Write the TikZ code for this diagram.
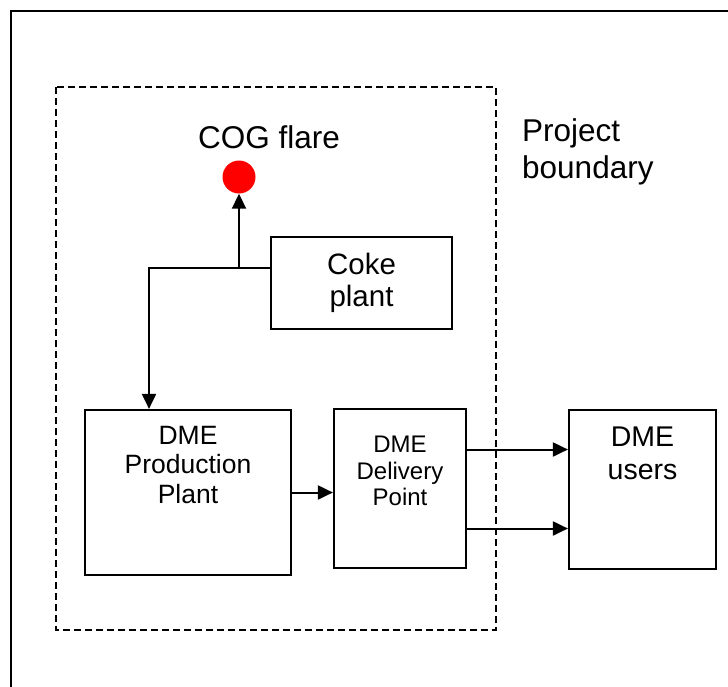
\documentclass[tikz,border=0pt]{standalone}
\usepackage{fontspec}
\setmainfont{Liberation Sans}
\usetikzlibrary{arrows.meta}

\tikzset{
    unit/.style={draw, line width=2.2pt, inner sep=0pt},
    flow/.style={line width=2pt, -{Triangle[length=15pt,width=14pt]}},
    boxtext/.style={anchor=north, inner sep=0pt, align=center}
}

\begin{document}
\begin{tikzpicture}[x=1pt, y=-1pt]
    \useasboundingbox (0,0) rectangle (728,686);
    \clip (0,0) rectangle (728,686);
    \draw[line width=2.4pt] (11,11) rectangle (760,720);

    % project boundary
    \draw[line width=2pt, dash pattern=on 7pt off 4pt] (56,87) rectangle (496,630);
    \node[anchor=north west, inner sep=0pt, align=left, font=\fontsize{31.5}{37}\selectfont]
        (bnd) at (522,118) {Project\\boundary};

    \node[circle, fill=red, minimum size=33pt, inner sep=0pt] (flare) at (239,177) {};
    \node[anchor=north, inner sep=0pt, font=\fontsize{31.5}{36}\selectfont]
        (flaretext) at (269,125) {COG flare};

    \node[unit, minimum width=181pt, minimum height=92pt, align=center,
          font=\fontsize{29.5}{32}\selectfont] (coke) at (361.5,283) {Coke\\plant};

    \node[unit, minimum width=206pt, minimum height=165pt,
          label={[boxtext, yshift=-17pt, font=\fontsize{26.5}{29.5}\selectfont]north:DME\\Production\\Plant}]
          (prod) at (188,492.5) {};
    \node[unit, minimum width=132pt, minimum height=159pt,
          label={[boxtext, yshift=-28pt, font=\fontsize{24}{26.5}\selectfont]north:DME\\Delivery\\Point}]
          (deliv) at (400,488.5) {};
    \node[unit, minimum width=147pt, minimum height=159pt,
          label={[boxtext, yshift=-18pt, font=\fontsize{28.5}{33}\selectfont]north:DME\\users}]
          (users) at (642.5,489.5) {};

    \coordinate (tap) at ([yshift=15pt]coke.west);
    \coordinate (split) at (flare |- tap);
    \coordinate (drop) at (149,268);
    \coordinate (out1) at ([yshift=39pt]deliv.east);
    \coordinate (out2) at ([yshift=-40pt]deliv.east);

    \draw[flow] (split) -- (flare.south);
    \draw[flow] (tap) -- (drop) -- (drop |- prod.north);
    \draw[flow] (prod.east) -- (deliv.west |- prod.east);
    \draw[flow] (out1) -- (users.west |- out1);
    \draw[flow] (out2) -- (users.west |- out2);
\end{tikzpicture}
\end{document}
